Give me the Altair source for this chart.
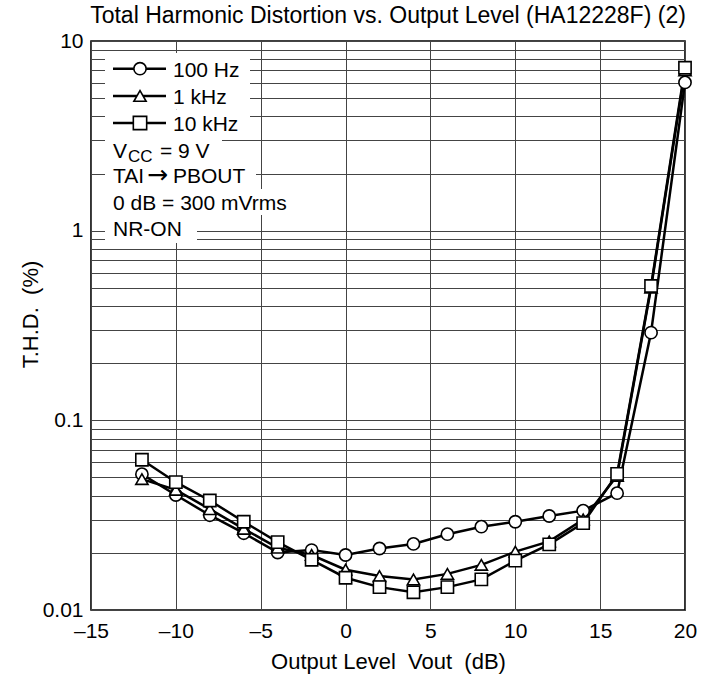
import altair as alt
import pandas as pd

# ---- data ----
levels = [-12, -10, -8, -6, -4, -2, 0, 2, 4, 6, 8, 10, 12, 14, 16, 18, 20]
thd_100hz = [0.052, 0.0404, 0.0316, 0.0254, 0.0201, 0.0207, 0.0195, 0.0211, 0.0223,
             0.0251, 0.0275, 0.0292, 0.0313, 0.0334, 0.0413, 0.290, 6.05]
thd_1khz = [0.049, 0.043, 0.034, 0.0268, 0.0213, 0.0195, 0.0163, 0.0151, 0.0145,
            0.0155, 0.0173, 0.0203, 0.0230, 0.0300, 0.051, 0.50, 7.0]
thd_10khz = [0.062, 0.0472, 0.0378, 0.0292, 0.0228, 0.0184, 0.0148, 0.0132, 0.0124,
             0.0132, 0.0145, 0.0182, 0.0222, 0.0287, 0.0522, 0.511, 7.23]
series_names = ["100 Hz", "1 kHz", "10 kHz"]
series_shapes = ["circle", "triangle-up", "square"]
series_sizes = [150, 150, 178]
x_ticks = [-15, -10, -5, 0, 5, 10, 15, 20]
y_grid = [m * 10.0 ** k for k in (-2, -1, 0) for m in range(1, 10)] + [10.0]

rows = []
for name, vals in zip(series_names, [thd_100hz, thd_1khz, thd_10khz]):
    for x, v in zip(levels, vals):
        rows.append({"level": x, "thd": v, "series": name})
df = pd.DataFrame(rows)

FONT = "Liberation Sans"
W, H = 594, 569

xenc = alt.X("level:Q", scale=alt.Scale(domain=[-15, 20], nice=False, zero=False),
             axis=alt.Axis(values=x_ticks, grid=True, ticks=False, domain=False,
                           labelFlush=False, labelOverlap=False,
                           labelExpr="datum.value < 0 ? '\u2013' + abs(datum.value) : datum.label",
                           labelPadding=10, labelFontSize=21,
                           title="Output Level\u00a0\u00a0Vout\u00a0\u00a0(dB)",
                           titleFontSize=22, titleFontWeight="normal",
                           titleY=58, titleBaseline="alphabetic"))
yenc = alt.Y("thd:Q", scale=alt.Scale(type="log", domain=[0.01, 10], nice=False),
             axis=alt.Axis(values=y_grid, grid=True, ticks=False, domain=False,
                           labelOverlap=False, labelFlush=False, labelPadding=8,
                           labelFontSize=21,
                           labelExpr="abs(log(datum.value)/LN10 - round(log(datum.value)/LN10)) < 1e-6 ? format(datum.value, '~g') : ''",
                           title="T.H.D.\u00a0\u00a0(%)", titleFontSize=22,
                           titleFontWeight="normal", titleAngle=270,
                           titleX=-61, titleY=273, titleBaseline="middle",
                           titleAlign="center"))

one = pd.DataFrame({"k": [0]})

def box(x1, x2, y1, y2):
    return alt.Chart(one).mark_rect(fill="white", stroke=None).encode(
        x=alt.value(x1), x2=alt.value(x2), y=alt.value(y1), y2=alt.value(y2))

def txt(s, x, y, size=21, font=FONT):
    return alt.Chart(one).mark_text(align="left", baseline="alphabetic", font=font,
                                    fontSize=size, color="black").encode(
        x=alt.value(x), y=alt.value(y), text=alt.value(s))

# legend background boxes (one per row)
bounds = [12, 41, 68.5, 96, 122, 148, 174, 202]
rights = [159, 159, 159, 131, 165, 221, 106]
boxes = [box(14, r, bounds[i], bounds[i + 1]) for i, r in enumerate(rights)]

lines = alt.Chart(df).mark_line(color="black", strokeWidth=2.5).encode(
    x=xenc, y=yenc, detail="series:N")
points = alt.Chart(df).mark_point(filled=True, fill="white", stroke="black",
                                  strokeWidth=1.6, opacity=1).encode(
    x="level:Q", y="thd:Q",
    shape=alt.Shape("series:N", scale=alt.Scale(domain=series_names, range=series_shapes),
                    legend=None),
    size=alt.Size("series:N", scale=alt.Scale(domain=series_names, range=series_sizes),
                  legend=None))

legend_y = [27.7, 55, 82]
legend_base = [35.7, 63, 89.7]
legend_layers = []
for name, shp, sz, yc, yb in zip(series_names, series_shapes, series_sizes, legend_y, legend_base):
    legend_layers.append(alt.Chart(one).mark_rule(color="black", strokeWidth=2.5).encode(
        x=alt.value(22), x2=alt.value(75), y=alt.value(yc)))
    legend_layers.append(alt.Chart(one).mark_point(filled=True, fill="white", stroke="black",
                                                   strokeWidth=1.6, size=sz, opacity=1,
                                                   shape=shp).encode(
        x=alt.value(49), y=alt.value(yc)))
    legend_layers.append(txt(name, 82, yb))

notes = [
    txt("V", 22, 117.3),
    txt("CC", 37, 120.7, size=17),
    txt("= 9 V", 69, 117.3),
    txt("TAI", 22, 142),
    txt("\u2192", 56, 142, size=25, font="DejaVu Sans"),
    txt("PBOUT", 82, 142),
    txt("0 dB = 300 mVrms", 22, 169),
    txt("NR-ON", 22, 194.7),
]

chart = alt.layer(lines, *boxes, points, *legend_layers, *notes).properties(
    width=W, height=H,
    title=alt.TitleParams("Total Harmonic Distortion vs. Output Level (HA12228F) (2)",
                          fontSize=23, font=FONT, fontWeight="normal", anchor="middle",
                          offset=2, color="black"),
    autosize=alt.AutoSizeParams(type="none"),
    padding={"left": 91, "top": 41, "right": 19, "bottom": 70},
).configure_view(stroke="black", strokeWidth=1.6).configure_axis(
    gridColor="#444444", gridWidth=1, gridOpacity=1, labelFont=FONT, titleFont=FONT,
    labelColor="black", titleColor="black")

chart.save("out.html", embed_options={"renderer": "svg", "actions": False})
